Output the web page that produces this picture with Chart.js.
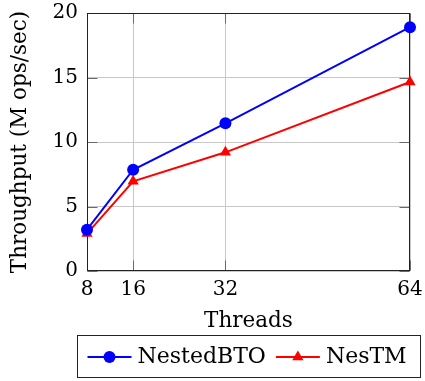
<!DOCTYPE html>
<html>
<head>
<meta charset="utf-8">
<script src="https://cdn.jsdelivr.net/npm/chart.js@4/dist/chart.umd.min.js"></script>
<style>
  html, body { margin: 0; padding: 0; background: #fff; }
  #wrap { width: 425px; height: 381px; }
</style>
</head>
<body>
<div id="wrap"><canvas id="throughputChart" width="425" height="381"></canvas></div>
<script>
// Datos
const threads = [8, 16, 32, 64];
const nestedBTO = [3.2, 7.85, 11.45, 18.9];
const nesTM = [2.9, 6.95, 9.2, 14.65];
const yTicks = [0, 5, 10, 15, 20];

const serif = '"DejaVu Serif", serif';

// Marco del eje con marcas hacia dentro (estilo pgfplots)
const axisFrame = {
    id: 'axisFrame',
    beforeDatasetsDraw(chart) {
        const { ctx, chartArea: a, scales } = chart;
        const l = Math.round(a.left) + 0.5, r = Math.round(a.right) - 0.5;
        const t = Math.round(a.top) + 0.5, b = Math.round(a.bottom) - 0.5;
        const tick = 10;
        ctx.save();
        ctx.lineWidth = 1;
        ctx.strokeStyle = '#6a6a6a';
        ctx.beginPath();
        threads.forEach(v => {
            const x = Math.round(scales.x.getPixelForValue(v)) + 0.5;
            ctx.moveTo(x, b); ctx.lineTo(x, b - tick);
            ctx.moveTo(x, t); ctx.lineTo(x, t + tick);
        });
        yTicks.forEach(v => {
            const y = Math.round(scales.y.getPixelForValue(v)) + 0.5;
            ctx.moveTo(l, y); ctx.lineTo(l + tick, y);
            ctx.moveTo(r, y); ctx.lineTo(r - tick, y);
        });
        ctx.stroke();
        ctx.strokeStyle = '#222';
        ctx.strokeRect(l, t, r - l, b - t);
        ctx.restore();
    }
};

// Leyenda con recuadro, línea y marcador
const boxedLegend = {
    id: 'boxedLegend',
    afterDraw(chart) {
        const { ctx, chartArea: a } = chart;
        const lineW = 44, gap = 6, itemGap = 10, padL = 10, padR = 14;
        const boxTop = 335.5, boxBottom = 377.5, cy = 357;
        ctx.save();
        ctx.font = '22px ' + serif;
        const items = chart.data.datasets.map(ds => ({ ds, tw: ctx.measureText(ds.label).width }));
        const inner = items.reduce((s, it) => s + lineW + gap + it.tw, 0) + itemGap * (items.length - 1);
        const boxW = padL + inner + padR;
        const boxLeft = Math.round((a.left + a.right) / 2 - boxW / 2) + 0.5;
        ctx.lineWidth = 1;
        ctx.strokeStyle = '#222';
        ctx.strokeRect(boxLeft, boxTop, Math.round(boxW), boxBottom - boxTop);
        let x = boxLeft + padL;
        items.forEach(({ ds, tw }) => {
            ctx.strokeStyle = ds.borderColor;
            ctx.fillStyle = ds.borderColor;
            ctx.lineWidth = ds.borderWidth;
            ctx.beginPath();
            ctx.moveTo(x, cy);
            ctx.lineTo(x + lineW, cy);
            ctx.stroke();
            const mx = x + lineW / 2, r = ds.pointRadius;
            ctx.beginPath();
            if (ds.pointStyle === 'triangle') {
                ctx.moveTo(mx, cy - r);
                ctx.lineTo(mx + r * 0.866, cy + r / 2);
                ctx.lineTo(mx - r * 0.866, cy + r / 2);
                ctx.closePath();
            } else {
                ctx.arc(mx, cy, r, 0, Math.PI * 2);
            }
            ctx.fill();
            ctx.fillStyle = '#000';
            ctx.textBaseline = 'middle';
            ctx.textAlign = 'left';
            ctx.fillText(ds.label, x + lineW + gap, cy);
            x += lineW + gap + tw + itemGap;
        });
        ctx.restore();
    }
};

const ctx = document.getElementById('throughputChart').getContext('2d');
const throughputChart = new Chart(ctx, {
    type: 'line',
    data: {
        datasets: [
            {
                label: 'NestedBTO',
                data: threads.map((t, i) => ({ x: t, y: nestedBTO[i] })),
                borderColor: '#0000ff',
                backgroundColor: '#0000ff',
                borderWidth: 2,
                pointStyle: 'circle',
                pointRadius: 6,
                pointBorderWidth: 0,
                clip: false
            },
            {
                label: 'NesTM',
                data: threads.map((t, i) => ({ x: t, y: nesTM[i] })),
                borderColor: '#ff0000',
                backgroundColor: '#ff0000',
                borderWidth: 2,
                pointStyle: 'triangle',
                pointRadius: 6.5,
                pointBorderWidth: 0,
                clip: false
            }
        ]
    },
    options: {
        responsive: false,
        animation: false,
        layout: { padding: { left: 0, top: 13, right: 15, bottom: 46 } },
        plugins: {
            legend: { display: false },
            tooltip: { enabled: false }
        },
        scales: {
            x: {
                type: 'linear',
                min: 8,
                max: 64,
                afterBuildTicks: scale => { scale.ticks = threads.map(v => ({ value: v })); },
                afterFit: scale => {
                    scale.height = 64;
                    scale.paddingLeft = 0;
                    scale.paddingRight = 0;
                },
                grid: { color: '#c8c8c8', drawTicks: false },
                border: { display: false },
                ticks: { color: '#000', padding: 7, font: { family: serif, size: 20 } },
                title: {
                    display: true,
                    text: 'Threads',
                    color: '#000',
                    padding: { top: 0, bottom: 1 },
                    font: { family: serif, size: 21.5 }
                }
            },
            y: {
                min: 0,
                max: 20,
                afterBuildTicks: scale => { scale.ticks = yTicks.map(v => ({ value: v })); },
                afterFit: scale => {
                    scale.width = 87;
                    scale.paddingTop = 0;
                    scale.paddingBottom = 0;
                },
                grid: { color: '#c8c8c8', drawTicks: false },
                border: { display: false },
                ticks: { color: '#000', padding: 9, font: { family: serif, size: 20 } },
                title: {
                    display: true,
                    text: 'Throughput (M ops/sec)',
                    color: '#000',
                    padding: { top: 8, bottom: 0 },
                    font: { family: serif, size: 21.5 }
                }
            }
        }
    },
    plugins: [axisFrame, boxedLegend]
});
</script>
</body>
</html>
